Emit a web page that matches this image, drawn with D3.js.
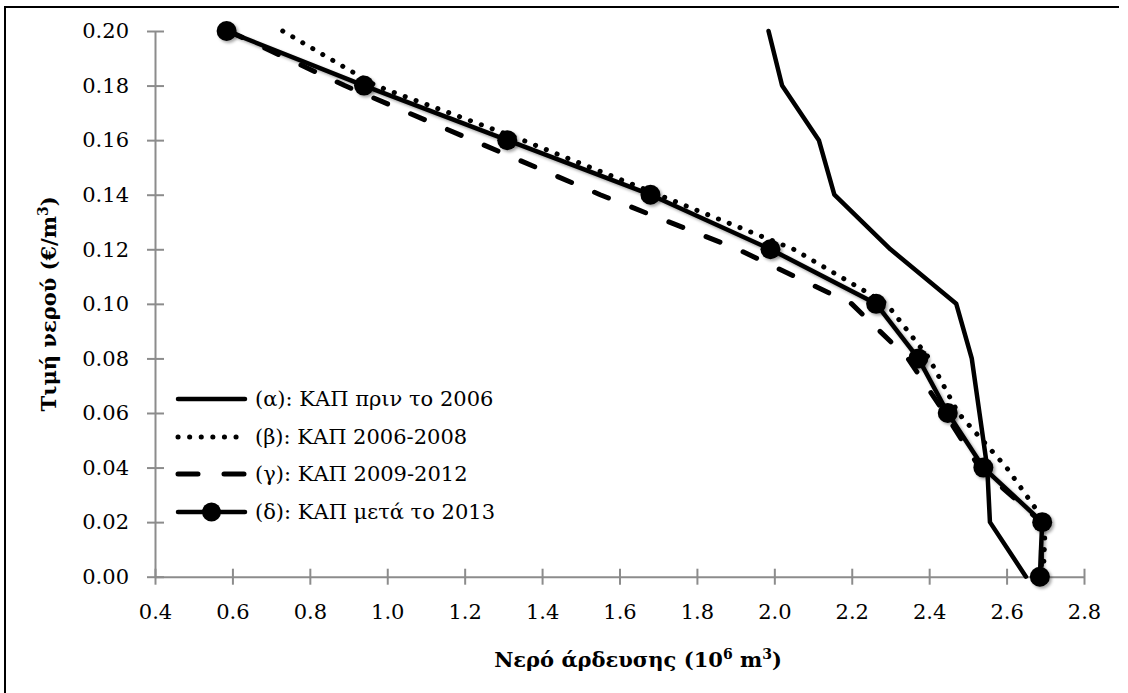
<!DOCTYPE html>
<html>
<head>
  <meta charset="utf-8">
  <script src="https://d3js.org/d3.v7.min.js"></script>
  <style>
    body { margin: 0; background: #fff; }
    text { font-family: "DejaVu Serif", serif; fill: #000; }
    .axis text { font-size: 21px; }
    .axis line, .axis path { stroke: #8c8c8c; stroke-width: 2; }
    .title { font-size: 21px; font-weight: bold; }
    .legend text { font-size: 21px; }
  </style>
</head>
<body>
  <div id="chart"></div>
  <script>
    // water price levels (y) shared by all four curves
    const prices = [0.20, 0.18, 0.16, 0.14, 0.12, 0.10, 0.08, 0.06, 0.04, 0.02, 0.00];
    // irrigation water (10^6 m3) for each CAP period
    const waterA = [1.985, 2.02, 2.115, 2.155, 2.30, 2.47, 2.51, 2.53, 2.55, 2.557, 2.65];
    const waterB = [0.73, 0.97, 1.35, 1.70, 2.05, 2.29, 2.40, 2.475, 2.60, 2.70, 2.695];
    const waterC = [0.59, 0.89, 1.22, 1.55, 1.906, 2.20, 2.345, 2.44, 2.53, 2.69, 2.69];
    const waterD = [0.585, 0.94, 1.31, 1.68, 1.99, 2.263, 2.372, 2.448, 2.54, 2.692, 2.686];
    const seriesNames = ["(α): ΚΑΠ πριν το 2006", "(β): ΚΑΠ 2006-2008", "(γ): ΚΑΠ 2009-2012", "(δ): ΚΑΠ μετά το 2013"];
    const xTicks = [0.4, 0.6, 0.8, 1.0, 1.2, 1.4, 1.6, 1.8, 2.0, 2.2, 2.4, 2.6, 2.8];
    const yTicks = [0.00, 0.02, 0.04, 0.06, 0.08, 0.10, 0.12, 0.14, 0.16, 0.18, 0.20];

    const width = 1128, height = 693;
    const svg = d3.select("#chart").append("svg")
      .attr("width", width)
      .attr("height", height);

    // soft shadow like the spreadsheet effect
    const defs = svg.append("defs");
    defs.append("filter").attr("id", "shadow")
      .attr("x", "-20%").attr("y", "-20%").attr("width", "140%").attr("height", "140%")
      .append("feDropShadow")
      .attr("dx", 2).attr("dy", 2).attr("stdDeviation", 1.8)
      .attr("flood-color", "#000").attr("flood-opacity", 0.35);

    // frame (left + top)
    svg.append("path")
      .attr("d", "M5,693 V7 H1119")
      .attr("fill", "none").attr("stroke", "#000").attr("stroke-width", 2);

    const x = d3.scaleLinear().domain([0.4, 2.8]).range([155, 1084]);
    const y = d3.scaleLinear().domain([0, 0.2]).range([576.7, 31]);

    // axes with ticks crossing the line
    const gx = svg.append("g").attr("class", "axis")
      .attr("transform", "translate(0," + y(0) + ")")
      .call(d3.axisBottom(x).tickValues(xTicks).tickSizeInner(8).tickSizeOuter(0)
        .tickPadding(19).tickFormat(d3.format(".1f")));
    gx.selectAll(".tick line").attr("y1", -8);

    const gy = svg.append("g").attr("class", "axis")
      .attr("transform", "translate(" + x(0.4) + ",0)")
      .call(d3.axisLeft(y).tickValues(yTicks).tickSizeInner(8).tickSizeOuter(0)
        .tickPadding(18).tickFormat(d3.format(".2f")));
    gy.selectAll(".tick line").attr("x1", 9);

    // axis titles
    const xt = svg.append("text").attr("class", "title")
      .attr("x", 638).attr("y", 667).attr("text-anchor", "middle");
    xt.append("tspan").text("Νερό άρδευσης (10");
    xt.append("tspan").attr("dy", -8).attr("font-size", 14).text("6");
    xt.append("tspan").attr("dy", 8).text(" m");
    xt.append("tspan").attr("dy", -8).attr("font-size", 14).text("3");
    xt.append("tspan").attr("dy", 8).text(")");

    const yt = svg.append("text").attr("class", "title")
      .attr("transform", "translate(56," + ((y(0) + y(0.2)) / 2) + ") rotate(-90)")
      .attr("text-anchor", "middle");
    yt.append("tspan").text("Τιμή νερού (€/m");
    yt.append("tspan").attr("dy", -8).attr("font-size", 14).text("3");
    yt.append("tspan").attr("dy", 8).text(")");

    const line = d3.line().x(d => x(d[0])).y(d => y(d[1]));
    const pts = arr => arr.map((v, i) => [v, prices[i]]);

    const styles = [
      { dash: null, cap: "round", w: 4.5 },
      { dash: "0.1,11.5", cap: "round", w: 5 },
      { dash: "15,25", cap: "round", w: 5 },
      { dash: null, cap: "round", w: 4.5 }
    ];
    const series = [waterA, waterB, waterC, waterD];

    const plot = svg.append("g");
    series.forEach((s, i) => {
      plot.append("path")
        .datum(pts(s))
        .attr("d", line)
        .attr("fill", "none")
        .attr("stroke", "#000")
        .attr("stroke-width", styles[i].w)
        .attr("stroke-linecap", styles[i].cap)
        .attr("stroke-linejoin", "round")
        .attr("stroke-dasharray", styles[i].dash)
        .attr("filter", i === 3 ? "url(#shadow)" : null);
    });

    // markers for series (δ)
    plot.append("g").attr("filter", "url(#shadow)")
      .selectAll("circle")
      .data(pts(waterD))
      .enter().append("circle")
      .attr("cx", d => x(d[0]))
      .attr("cy", d => y(d[1]))
      .attr("r", 10)
      .attr("fill", "#000");

    // legend
    const legendY = [399, 437, 474, 512];
    const legend = svg.append("g").attr("class", "legend");
    seriesNames.forEach((name, i) => {
      const row = legend.append("g");
      row.append("line")
        .attr("x1", 178).attr("x2", 245)
        .attr("y1", legendY[i]).attr("y2", legendY[i])
        .attr("stroke", "#000")
        .attr("stroke-width", styles[i].w)
        .attr("stroke-linecap", styles[i].cap)
        .attr("stroke-dasharray", i === 2 ? "20,26" : styles[i].dash);
      if (i === 3) {
        row.append("circle").attr("cx", 211.5).attr("cy", legendY[i]).attr("r", 9.5).attr("fill", "#000");
      }
      row.append("text")
        .attr("x", 255).attr("y", legendY[i])
        .attr("dy", "0.35em")
        .text(name);
    });
  </script>
</body>
</html>
